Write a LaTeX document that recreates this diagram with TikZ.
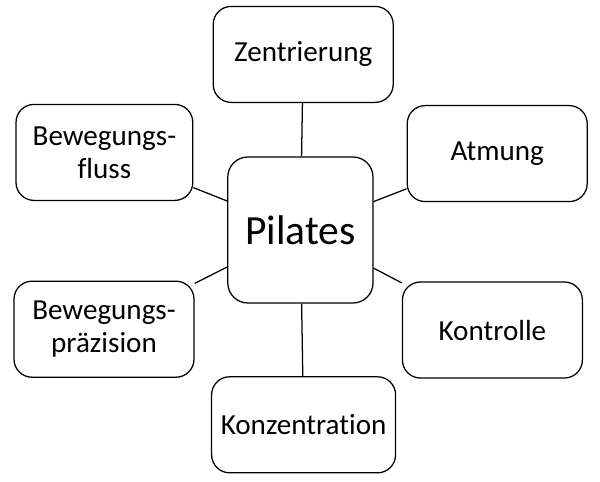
\documentclass[tikz,border=0pt]{standalone}
\usepackage{fontspec}
\setmainfont{Carlito}[Ligatures=NoCommon]
\usetikzlibrary{positioning}

\begin{document}
\begin{tikzpicture}[
        topic/.style={rectangle, rounded corners=0.45cm, draw, line width=0.9pt, minimum width=4.5cm, minimum height=2.4cm, align=center, font=\fontsize{20.7}{23.5}\selectfont},
        hub/.style={rectangle, rounded corners=0.5cm, draw, line width=0.9pt, minimum width=3.63cm, minimum height=3.65cm, font=\fontsize{29.5}{34}\selectfont},
        link/.style={line width=0.9pt}
    ]
        % Frame
        \useasboundingbox (0,0) rectangle (15,-12.025);

        % Centre
        \node[hub] (pilates) at (7.51,-5.75) {Pilates};

        % Topics
        \node[topic] (zentr) at (7.58,-1.36) {Zentrierung};
        \node[topic] (atmung) at (12.43,-3.84) {Atmung};
        \node[topic] (kontr) at (12.31,-8.25) {Kontrolle};
        \node[topic, minimum width=4.6cm] (konz) at (7.59,-10.62) {Konzentration};
        \node[topic] (praez) at (2.6,-8.23) {Bewegungs-\\präzision};
        \node[topic, minimum width=4.42cm] (fluss) at (2.61,-3.81) {Bewegungs-\\fluss};

        % Links to centre
        \foreach \t in {zentr, atmung, kontr, konz, praez, fluss}
            \draw[link] (pilates) -- (\t);
    \end{tikzpicture}
\end{document}
